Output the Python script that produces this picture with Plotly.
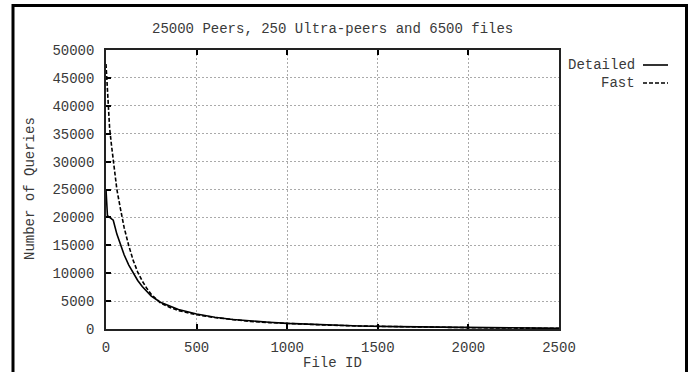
import plotly.graph_objects as go

# ---- data ----
detailed_x = [0, 3, 8, 20, 40, 60, 80, 100, 125, 150, 175, 200, 250, 300, 350, 400,
              500, 600, 700, 800, 900, 1000, 1200, 1400, 1600, 1800, 2000, 2200, 2400, 2500]
detailed_y = [25000, 22500, 20300, 20000, 19500, 17000, 15000, 13300, 11500, 10000, 8700,
              7600, 5900, 4800, 4100, 3500, 2700, 2100, 1700, 1400, 1200, 1000, 750, 550,
              420, 320, 250, 190, 150, 130]
fast_x = [0, 5, 10, 20, 30, 40, 60, 80, 100, 125, 150, 175, 200, 225, 250, 300, 350, 400,
          500, 600, 700, 800, 900, 1000, 1200, 1400, 1600, 1800, 2000, 2200, 2400, 2500]
fast_y = [47500, 44000, 40500, 36000, 33000, 30000, 25000, 21500, 18200, 15000, 12300,
          10200, 8600, 7300, 6200, 4700, 3900, 3300, 2550, 2050, 1650, 1350, 1150, 980,
          720, 530, 400, 300, 240, 180, 140, 120]
x_ticks = [0, 500, 1000, 1500, 2000, 2500]
y_ticks = [0, 5000, 10000, 15000, 20000, 25000, 30000, 35000, 40000, 45000, 50000]
series_names = ["Detailed", "Fast"]
title_text = "25000 Peers, 250 Ultra-peers and 6500 files"
x_title = "File ID"
y_title = "Number of Queries"

FONT = "Liberation Mono, Courier New, monospace"
TXT = "#3a3a3a"

fig = go.Figure()
fig.add_trace(go.Scatter(x=detailed_x, y=detailed_y, mode="lines", name=series_names[0],
                         line=dict(color="black", width=1.6), showlegend=False))
fig.add_trace(go.Scatter(x=fast_x, y=fast_y, mode="lines", name=series_names[1],
                         line=dict(color="black", width=1.6, dash="4px,2px"), showlegend=False))

W, H = 690, 372
L, R, T, B = 106, 131, 50, 43
pw, ph = W - L - R, H - T - B

def px(x):
    return (x - L) / pw

def py(y):
    return (H - B - y) / ph

fig.update_layout(
    width=W, height=H,
    margin=dict(l=L, r=R, t=T, b=B, pad=0),
    paper_bgcolor="white", plot_bgcolor="white",
    font=dict(family=FONT, size=14, color=TXT),
    xaxis=dict(range=[0, 2500], tickvals=x_ticks, ticktext=[str(v) for v in x_ticks],
               ticks="inside", ticklen=5, tickwidth=1.5, tickcolor="black",
               showline=True, linecolor="#222", linewidth=1.6, mirror="ticks",
               showgrid=True, gridcolor="#aaaaaa", gridwidth=1, griddash="2px,2px",
               zeroline=False, ticklabelstandoff=4, fixedrange=True),
    yaxis=dict(range=[0, 50000], tickvals=y_ticks, ticktext=[str(v) for v in y_ticks],
               ticks="inside", ticklen=5, tickwidth=1.5, tickcolor="black",
               showline=True, linecolor="#222", linewidth=1.6, mirror=True,
               showgrid=True, gridcolor="#aaaaaa", gridwidth=1, griddash="2px,2px",
               zeroline=False, ticklabelstandoff=7, fixedrange=True),
)

annotations = [
    dict(text=title_text, x=px(332.5), y=py(29), xref="paper", yref="paper",
         xanchor="center", yanchor="middle", showarrow=False),
    dict(text=x_title, x=px(332.5), y=py(363), xref="paper", yref="paper",
         xanchor="center", yanchor="middle", showarrow=False),
    dict(text=y_title, x=px(30), y=py(189), xref="paper", yref="paper",
         xanchor="center", yanchor="middle", showarrow=False, textangle=-90),
    dict(text=series_names[0], x=px(637), y=py(65), xref="paper", yref="paper",
         xanchor="right", yanchor="middle", showarrow=False),
    dict(text=series_names[1], x=px(637), y=py(83), xref="paper", yref="paper",
         xanchor="right", yanchor="middle", showarrow=False),
]
fig.update_layout(annotations=annotations)

shapes = [
    dict(type="line", xref="paper", yref="paper", x0=px(643), x1=px(668), y0=py(65), y1=py(65),
         line=dict(color="black", width=1.6)),
    dict(type="line", xref="paper", yref="paper", x0=px(643), x1=px(668), y0=py(83), y1=py(83),
         line=dict(color="black", width=1.6, dash="4px,2px")),
    # outer frame
    dict(type="rect", xref="paper", yref="paper", x0=px(13), x1=px(686.5), y0=py(390), y1=py(5.5),
         line=dict(color="black", width=3)),
]
fig.update_layout(shapes=shapes)

fig.write_html("out.html")
